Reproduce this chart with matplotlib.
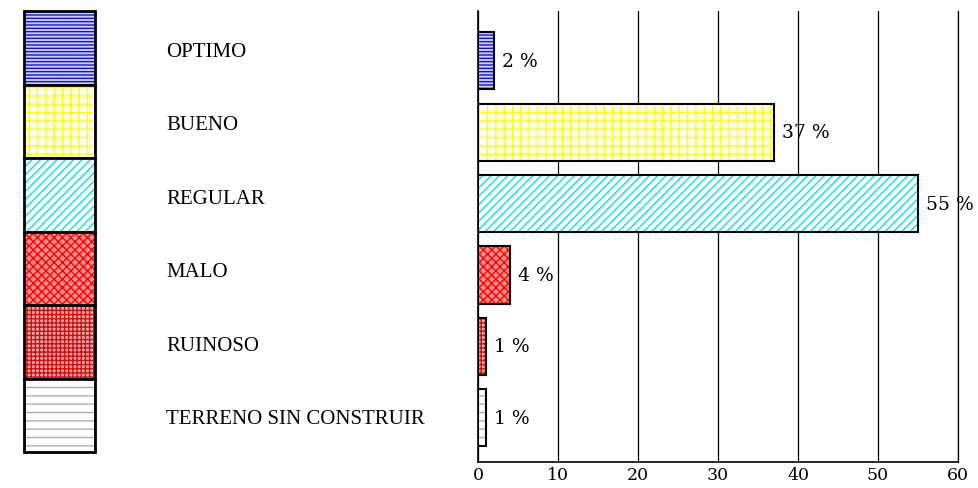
import matplotlib
matplotlib.use("Agg")
import matplotlib.pyplot as plt

categorias = ["OPTIMO", "BUENO", "REGULAR", "MALO", "RUINOSO", "TERRENO SIN CONSTRUIR"]
porcentajes = [2, 37, 55, 4, 1, 1]
colores_trama = ["#1010ee", "#ffff00", "#00e5e5", "#ff0000", "#cc1010", "#b0b0b0"]
colores_fondo = ["#d0d0f6", "#fffff0", "#ffffff", "#ff9090", "#eaa8a8", "#ffffff"]
tramas = ["-----", "++", "////", "xxxx", "++++", "--"]
ticks_x = [0, 10, 20, 30, 40, 50, 60]

plt.rcParams["hatch.linewidth"] = 1.0

fig = plt.figure(figsize=(9.79, 4.89), dpi=100)
W, H = 979, 489

# leyenda a la izquierda
ax_l = fig.add_axes([24 / W, 1 - 453 / H, 71 / W, 441 / H])
ax_l.set_xlim(0, 1)
ax_l.set_ylim(len(categorias) - 0.5, -0.5)
ax_l.axis("off")
for i, cat in enumerate(categorias):
    plt.rcParams["hatch.color"] = colores_trama[i]
    ax_l.barh(i, 1, height=1, color=colores_fondo[i], hatch=tramas[i],
              edgecolor=colores_trama[i], linewidth=0)
    b = ax_l.barh(i, 1, height=1, fill=False, edgecolor="black", linewidth=2)
    for p in b:
        p.set_clip_on(False)
    ax_l.text(2.0, i + 0.05, cat, va="center", ha="left", fontsize=15,
              family="Liberation Serif", clip_on=False)

# barras
ax = fig.add_axes([478 / W, 1 - 463 / H, 480 / W, 451 / H])
for i, v in enumerate(porcentajes):
    ax.barh(i, v, height=0.8, color=colores_fondo[i], hatch=tramas[i],
            edgecolor=colores_trama[i], linewidth=0, zorder=3)
    ax.barh(i, v, height=0.8, fill=False, edgecolor="black", linewidth=1.5, zorder=4)
    ax.annotate(f"{v} %", (v, i), xytext=(6, 0), textcoords="offset points",
                va="center", ha="left", fontsize=13.5, family="DejaVu Serif",
                annotation_clip=False)

ax.set_xlim(0, 60)
ax.set_ylim(5.62, -0.7)
ax.set_xticks(ticks_x)
ax.set_yticks([])
ax.grid(axis="x", color="black", linewidth=0.9, zorder=0)
ax.set_axisbelow(True)
ax.spines["top"].set_visible(False)
ax.spines["right"].set_linewidth(0.9)
ax.spines["left"].set_linewidth(1.2)
ax.spines["bottom"].set_linewidth(1.2)
ax.tick_params(axis="x", length=0, pad=3, labelsize=12.5)
for lab in ax.get_xticklabels():
    lab.set_family("DejaVu Serif")

fig.savefig("out.png", dpi=100)
